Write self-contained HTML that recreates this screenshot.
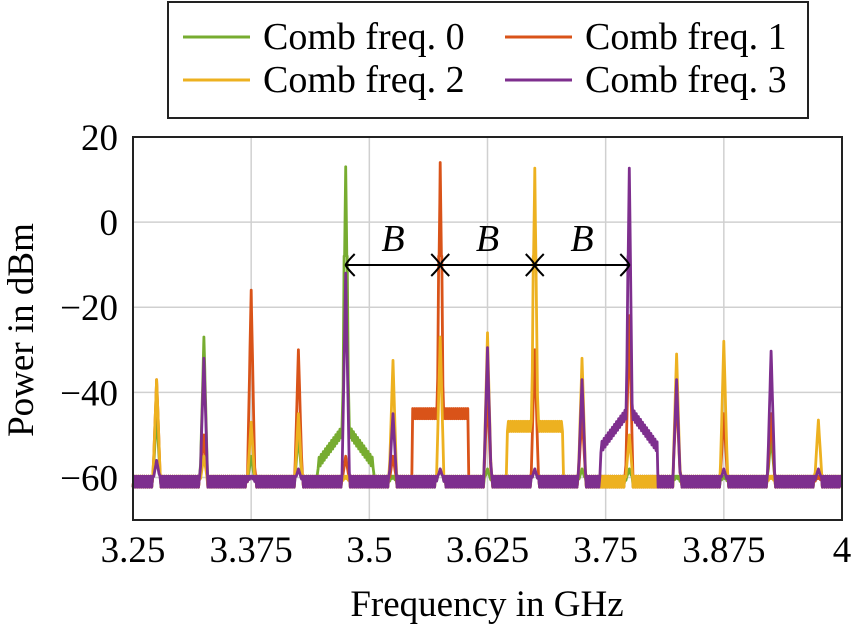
<!DOCTYPE html>
<html><head><meta charset="utf-8"><style>
body{margin:0;background:#fff}
svg text{font-family:"Liberation Serif",serif;fill:#000}
</style></head><body>
<svg id="chart" width="853" height="627" viewBox="0 0 853 627" xmlns="http://www.w3.org/2000/svg">
<g id="grid"></g>
<g id="series"></g>
<rect x="133" y="137" width="709" height="383" fill="none" stroke="#222" stroke-width="2"/>
<g id="ticks"></g>
<g id="annot"></g>
<text transform="translate(33,330) rotate(-90)" text-anchor="middle" font-size="37">Power in dBm</text>
<text x="487" y="616" text-anchor="middle" font-size="37">Frequency in GHz</text>
<g>
<rect x="168" y="2" width="640" height="116" fill="#fff" stroke="#222" stroke-width="2"/>
<line x1="183" y1="37" x2="250" y2="37" stroke="#77ac30" stroke-width="3"/>
<text x="263" y="49" font-size="38">Comb freq. 0</text>
<line x1="505" y1="37" x2="572" y2="37" stroke="#d95319" stroke-width="3"/>
<text x="585" y="49" font-size="38">Comb freq. 1</text>
<line x1="183" y1="80" x2="250" y2="80" stroke="#edb120" stroke-width="3"/>
<text x="263" y="92" font-size="38">Comb freq. 2</text>
<line x1="505" y1="80" x2="572" y2="80" stroke="#7e2f8e" stroke-width="3"/>
<text x="585" y="92" font-size="38">Comb freq. 3</text>
</g>
</svg>
<script>
const tones=[3.275,3.325,3.375,3.425,3.475,3.525,3.575,3.625,3.675,3.725,3.775,3.825,3.875,3.925,3.975];
const peaksComb0=[-45,-27,-55,-50,13,-60,-58,-58,-58,-58,-58,-60,-60,-50,-60];
const peaksComb1=[-37,-50,-16,-30,-55,-55,14,-40,-30,-45,-22,-40,-45,-45,-60];
const peaksComb2=[-37,-55,-47,-45,-60,-32.5,-27,-26,12.7,-32,-50,-31,-28,-60,-46.5];
const peaksComb3=[-56,-32,-60,-58,-12,-45,-58,-29.5,-58,-37,12.7,-37,-58,-30.3,-58];
const humpCenters=[3.475,3.575,3.675,3.775];
const humpLevels=[-48,-45,-48,-44];
const noiseFloor=-61;
const xTicks=[3.25,3.375,3.5,3.625,3.75,3.875,4];
const xTickLabels=["3.25","3.375","3.5","3.625","3.75","3.875","4"];
const yTicks=[20,0,-20,-40,-60];
const yTickLabels=["20","0","\u221220","\u221240","\u221260"];
const colors=["#77ac30","#d95319","#edb120","#7e2f8e"];
const X=f=>133+(f-3.25)/0.75*709;
const Y=d=>137+(20-d)/90*383;
const NS="http://www.w3.org/2000/svg";
function mk(t,a,p){const e=document.createElementNS(NS,t);for(const k in a)e.setAttribute(k,a[k]);p.appendChild(e);return e;}
const grid=document.getElementById('grid'),ticks=document.getElementById('ticks');
xTicks.forEach((v,i)=>{
 if(i>0&&i<xTicks.length-1){const l=mk('line',{x1:X(v),x2:X(v),y1:137,y2:520,stroke:'#d0d0d0','stroke-width':1.5},grid);
 
 }
 const t=mk('text',{x:X(v),y:562,'text-anchor':'middle','font-size':37},ticks);t.textContent=xTickLabels[i];
 
 
});
yTicks.forEach((v,i)=>{
 if(v<20){const l=mk('line',{x1:133,x2:842,y1:Y(v),y2:Y(v),stroke:'#d0d0d0','stroke-width':1.5},grid);
 
 }
 const t=mk('text',{x:118,y:Y(v)+13,'text-anchor':'end','font-size':37},ticks);t.textContent=yTickLabels[i];
 
 
});
const allPeaks=[peaksComb0,peaksComb1,peaksComb2,peaksComb3];
const sg=document.getElementById('series');
let fs=[];for(let f=3.25;f<=4.0001;f+=0.0011)fs.push(f);
tones.forEach(t=>{fs.push(t);fs.push(t-0.0012);fs.push(t+0.0012);});
fs.sort((a,b)=>a-b);
allPeaks.forEach((pk,s)=>{
 let d='';
 fs.forEach((f,i)=>{
  let v=noiseFloor+((i%2)?1.3:-1.3);
  const hc=humpCenters[s],hl=humpLevels[s],dd=Math.abs(f-hc);
  if(dd<0.03){let h=hl-((s==0||s==3)?dd*300:0)+((i%2)?1.2:-1.2);v=Math.max(v,h);}
  tones.forEach((t,k)=>{const dt=Math.abs(f-t);const hw=0.004;
   if(dt<hw){const p=pk[k];const b=noiseFloor+(p-noiseFloor)*(1-dt/hw);v=Math.max(v,b);}
   if(k==4+s*2&&dt<0.0018)v=Math.max(v,-8);});
  d+=(i?'L':'M')+X(f).toFixed(1)+' '+Y(v).toFixed(1);
 });
 const p=mk('path',{d:d,fill:'none',stroke:colors[s],'stroke-width':2.8,'stroke-linejoin':'round'},sg);
 
 
});
const an=document.getElementById('annot');
const ay=265;
const ends=[3.475,3.575,3.675,3.775];
for(let k=0;k<3;k++){
 const a=X(ends[k]),b=X(ends[k+1]);
 const l=mk('line',{x1:a,x2:b,y1:ay,y2:ay,stroke:'#000','stroke-width':2},an);
 
 
 mk('path',{d:`M${a+9} ${ay-11} Q${a+1} ${ay-3} ${a} ${ay} Q${a+1} ${ay+3} ${a+9} ${ay+11}`,fill:'none',stroke:'#000','stroke-width':2},an);
 mk('path',{d:`M${b-9} ${ay-11} Q${b-1} ${ay-3} ${b} ${ay} Q${b-1} ${ay+3} ${b-9} ${ay+11}`,fill:'none',stroke:'#000','stroke-width':2},an);
 const t=mk('text',{x:(a+b)/2,y:251,'text-anchor':'middle','font-size':38,'font-style':'italic'},an);t.textContent='B';
 
 
}
</script>
</body></html>
